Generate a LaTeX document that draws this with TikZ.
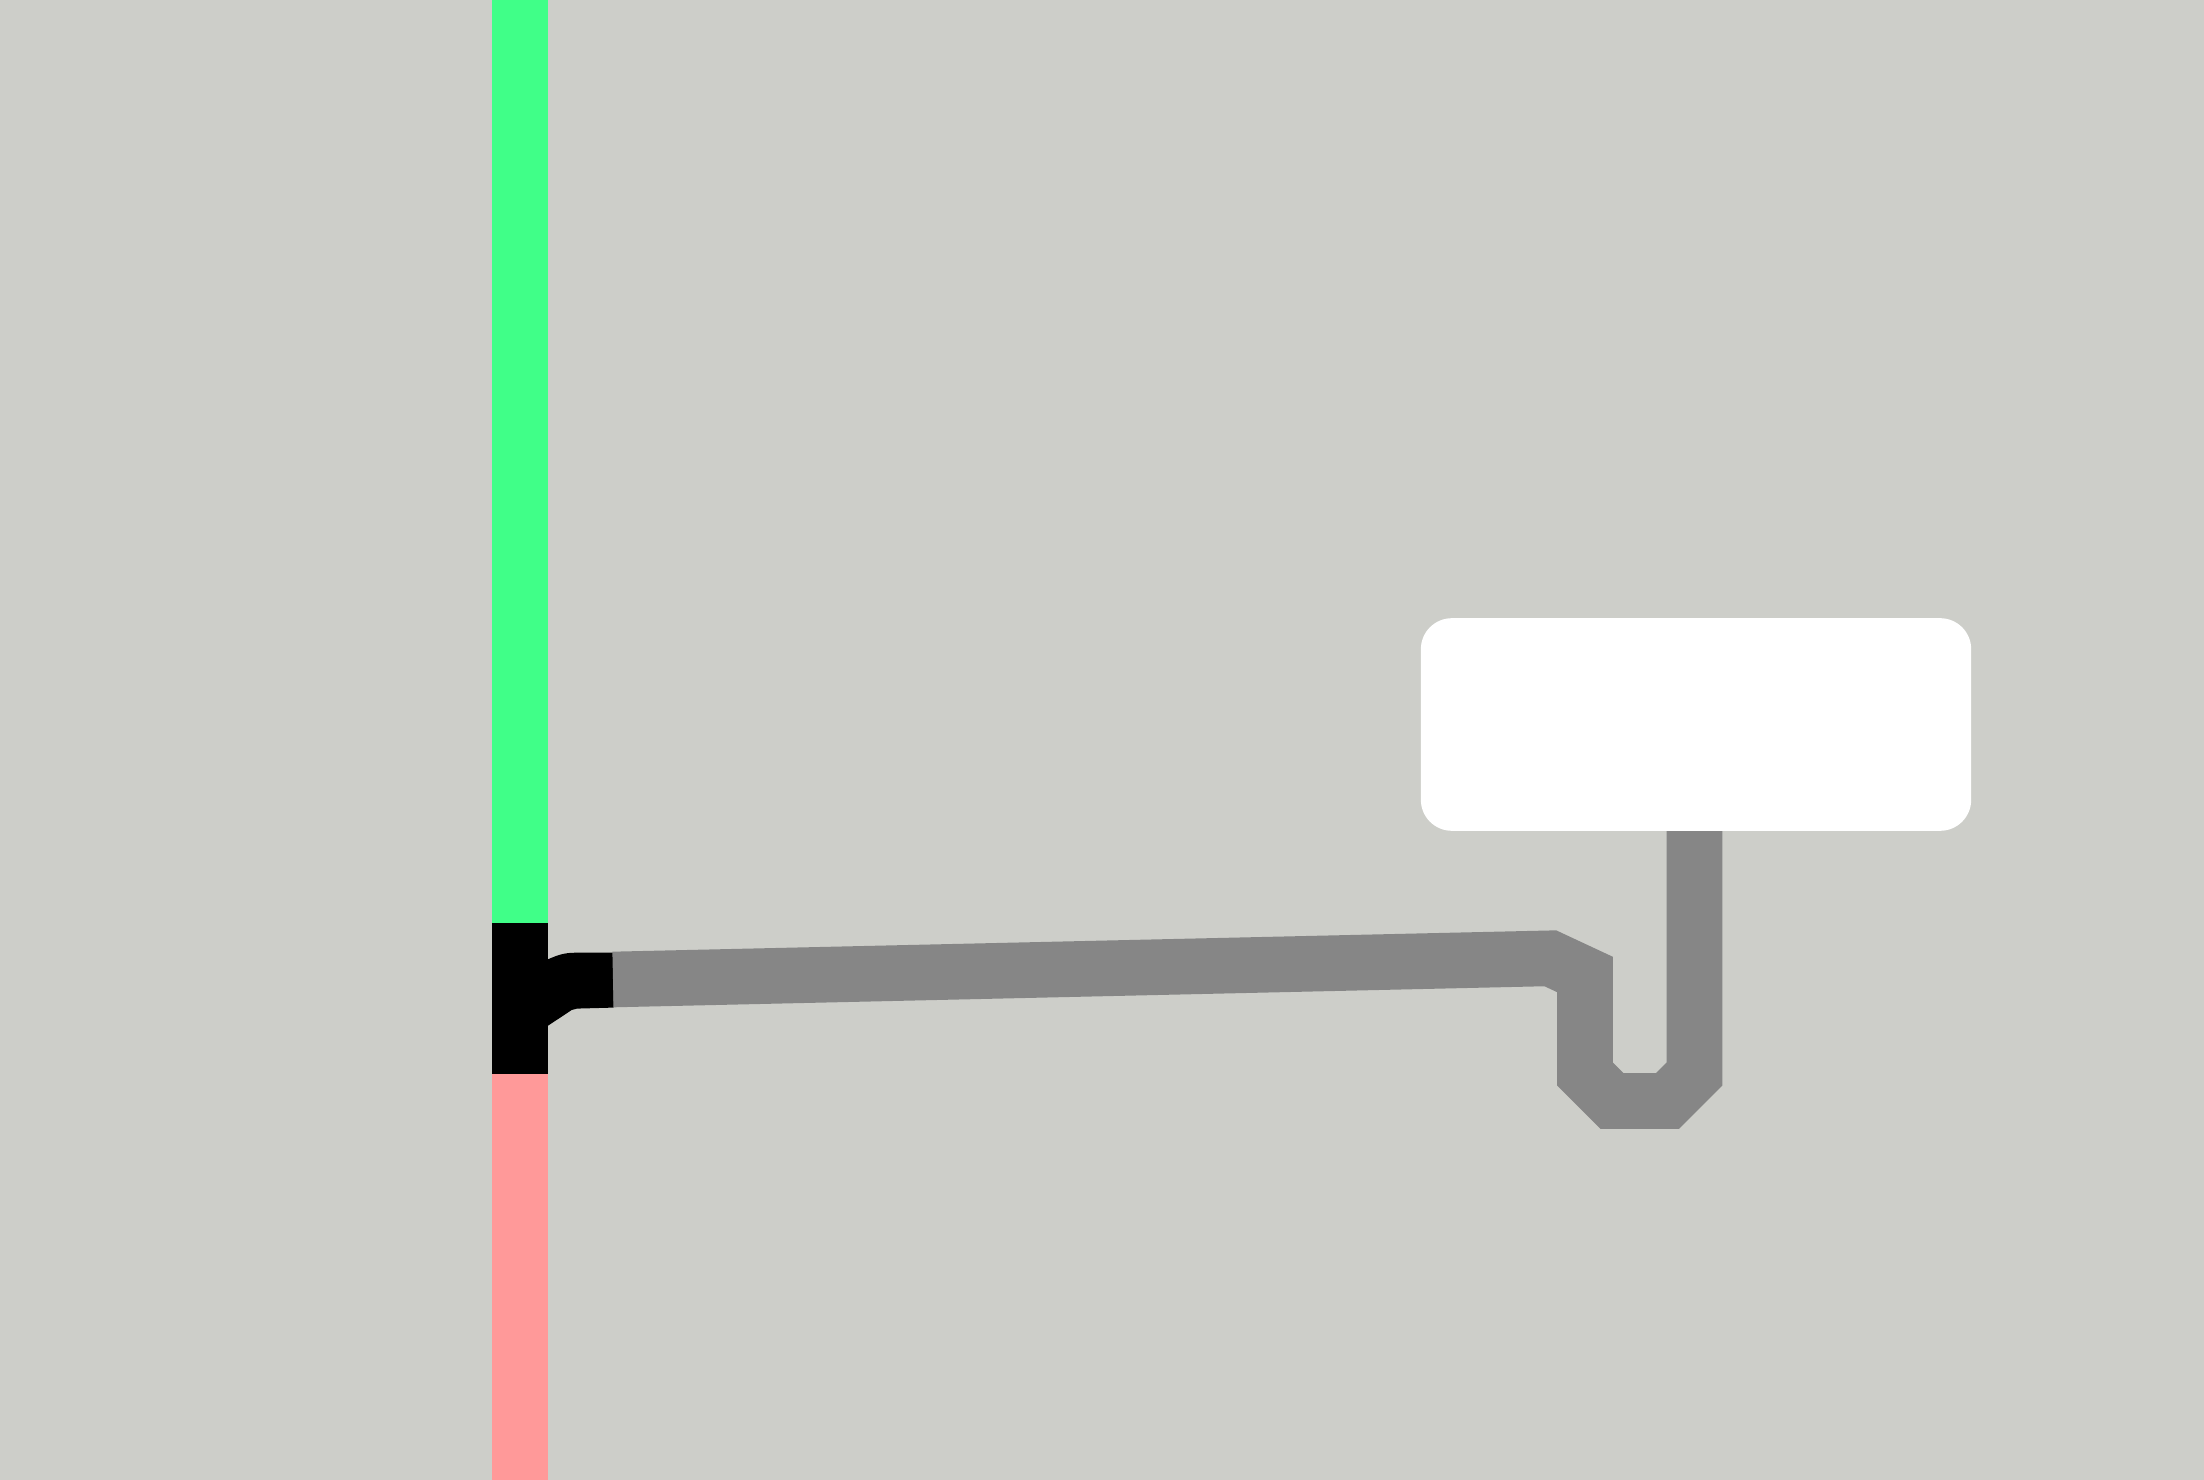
\documentclass[tikz,border=0pt]{standalone}
\definecolor{bgc}{HTML}{CDCEC9}
\definecolor{greenc}{HTML}{40FF88}
\definecolor{pinkc}{HTML}{FF9999}
\definecolor{wirec}{HTML}{868686}
\tikzset{
  railbar/.style={fill=#1},
  wire/.style={draw=wirec, line width=0.556cm, line join=miter, line cap=butt},
  sign/.style={fill=white, draw=none, rounded corners=0.31cm, minimum width=5.5cm, minimum height=2.125cm, inner sep=0pt}
}
\begin{document}
\begin{tikzpicture}[x=0.01cm,y=-0.01cm]
\useasboundingbox (0,0) rectangle (2204,1480);
\fill[bgc] (0,0) rectangle (2204,1480);
\fill[railbar=greenc] (492,0) rectangle (548,923);
\fill[railbar=black] (492,923) rectangle (548,1074);
\fill[railbar=pinkc] (492,1074) rectangle (548,1480);
% black branch
\fill[black] (540,962) -- (548,959.3) .. controls (558,955) and (564,952.7) .. (576,952.7) -- (613.5,952.5) -- (613.5,1007.6) -- (577,1008.6) .. controls (575,1008.6) and (573.5,1008.8) .. (571.7,1010) -- (548,1025.7) -- (540,1030) -- cycle;
\coordinate (wstart) at (613,979.5);
\coordinate (wend) at (1694.5,790);
\draw[wire] (wstart) -- (1550.3,958.3) -- (1585,974.5) -- (1585,1074) -- (1612,1101) -- (1667.5,1101) -- (1694.5,1074) -- (wend);
\node[sign] (box) at (1696,724.5) {};
\end{tikzpicture}
\end{document}
